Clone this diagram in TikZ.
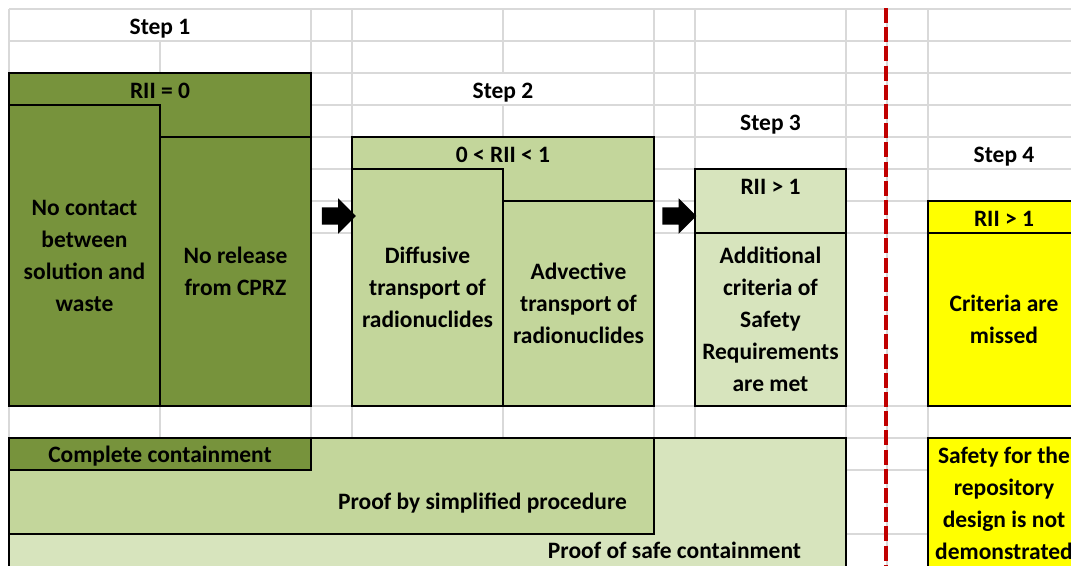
\documentclass[tikz,border=0pt]{standalone}
\usepackage{fontspec}
\setmainfont{Carlito}
\usetikzlibrary{shapes.arrows}

\definecolor{grndark}{HTML}{77933C}
\definecolor{grnmid}{HTML}{C3D69B}
\definecolor{grnlight}{HTML}{D7E4BD}
\definecolor{cellyellow}{HTML}{FFFF00}
\definecolor{gridgray}{HTML}{D9D9D9}
\definecolor{cutred}{HTML}{C00000}

% strut: 24pt above and 8pt below the baseline, one 32pt row per line
\newcommand\rowstrut{\rule[-8pt]{0pt}{32pt}}
\newcommand\cellfnt{\fontsize{23.5}{32}\selectfont\bfseries}

\begin{document}
\begin{tikzpicture}[x=1pt,y=-1pt,
  gridline/.style={draw=gridgray,line width=1.3pt},
  txt/.style={font=\cellfnt,align=center,inner sep=0pt,
    execute at begin node=\rowstrut,execute at end node=\rowstrut},
  cellbox/.style={txt,draw=black,line width=2pt,rectangle},
  darkbox/.style={cellbox,fill=grndark},
  midbox/.style={cellbox,fill=grnmid},
  lightbox/.style={cellbox,fill=grnlight},
  yelbox/.style={cellbox,fill=cellyellow},
  blockarrow/.style={single arrow,fill=black,draw=none,
    inner xsep=0pt,inner ysep=8.5pt,
    minimum height=34pt,minimum width=35pt,single arrow head extend=9pt,
    single arrow tip angle=90},
  cutline/.style={draw=cutred,line width=4pt,dash pattern=on 15pt off 4.2pt}]

\useasboundingbox (0,0) rectangle (1071,565);
\clip (0,0) rectangle (1071,565);
\fill[white] (0,0) rectangle (1071,565);

% sheet grid
\foreach \y in {9,41,73,105,137,169,201,233,406,438,470,534}
  \draw[gridline] (9,\y) -- (1071,\y);
\foreach \x in {9,311,352,654,695,846,887,928}
  \draw[gridline] (\x,9) -- (\x,565);
\draw[gridline] (160,41) -- (160,565);
\draw[gridline] (503,9) -- (503,73);
\draw[gridline] (503,105) -- (503,565);

% step headings
\node[txt] (h1) at (160,26) {Step 1};
\node[txt] (h2) at (503,90) {Step 2};
\node[txt] (h3) at (770.5,122) {Step 3};
\node[txt] (h4) at (1004,154) {Step 4};

% step 1
\node[darkbox,minimum width=302pt,minimum height=333pt] (s1) at (160,239.5) {};
\node[txt] (s1h) at (160,90) {RII = 0};
\node[darkbox,minimum width=151pt,minimum height=301pt] (s1a) at (84.5,255.5)
  {\rowstrut No contact\\between\\solution and\\waste};
\node[darkbox,minimum width=151pt,minimum height=269pt] (s1b) at (235.5,271.5)
  {\rowstrut No release\\from CPRZ};

% step 2
\node[midbox,minimum width=302pt,minimum height=269pt] (s2) at (503,271.5) {};
\node[txt] (s2h) at (503,154) {0 < RII < 1};
\node[midbox,minimum width=151pt,minimum height=237pt] (s2a) at (427.5,287.5)
  {\rowstrut Diffusive\\transport of\\radionuclides};
\node[midbox,minimum width=151pt,minimum height=205pt] (s2b) at (578.5,303.5)
  {\rowstrut Advective\\transport of\\radionuclides};

% step 3
\node[lightbox,minimum width=151pt,minimum height=237pt] (s3) at (770.5,287.5) {};
\node[txt] (s3h) at (770.5,186) {RII > 1};
\node[lightbox,minimum width=151pt,minimum height=173pt] (s3a) at (770.5,319.5)
  {\rowstrut Additional\\criteria of\\Safety\\Requirements\\are met};

% step 4
\node[yelbox,minimum width=152pt,minimum height=205pt] (s4) at (1004,303.5) {};
\node[txt] (s4h) at (1004,218) {RII > 1};
\node[yelbox,minimum width=152pt,minimum height=173pt] (s4a) at (1004,319.5)
  {\rowstrut Criteria are\\missed};

% arrows between the steps
\node[blockarrow] (a1) at (334.5,216) {};
\node[blockarrow] (a2) at (675,216) {};

% lower band: kinds of proof
\node[lightbox,minimum width=837pt,minimum height=142pt] (pc) at (427.5,509) {};
\node[txt] (pct) at (674.5,550) {Proof of safe containment};
\node[midbox,minimum width=645pt,minimum height=96pt] (ps) at (331.5,486) {};
\node[txt] (pst) at (482.5,501) {Proof by simplified procedure};
\node[darkbox,minimum width=302pt,minimum height=32pt] (cc) at (160,454)
  {Complete containment};
\node[yelbox,minimum width=152pt,minimum height=142pt] (sn) at (1004,509) {};
\node[txt] (snt) at (1004,503)
  {\rowstrut Safety for the\\repository\\design is not\\demonstrated};

% dividing line before step 4
\coordinate (cuttop) at (886,8);
\coordinate (cutbot) at (886,570);
\draw[cutline] (cuttop) -- (cutbot);
\end{tikzpicture}
\end{document}
